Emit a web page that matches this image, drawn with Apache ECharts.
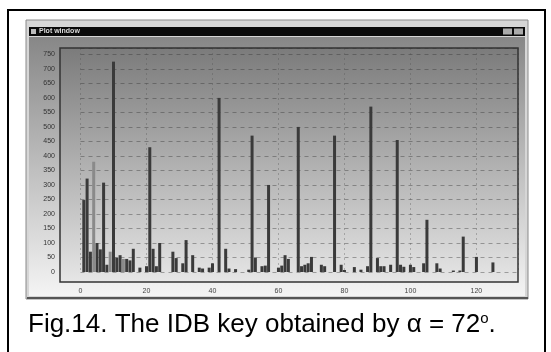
<!DOCTYPE html>
<html>
<head>
<meta charset="utf-8">
<script src="https://cdn.jsdelivr.net/npm/echarts@6/dist/echarts.min.js"></script>
<style>
  html, body { margin: 0; padding: 0; background: #fff; }
  #chart { width: 551px; height: 352px; }
</style>
</head>
<body>
<div id="chart"></div>
<script>
// key index -> key value (dark bars)
const darkPos = [1, 2, 3, 5, 6, 7, 8, 10, 11, 12, 14, 15, 16, 18, 20, 21, 22, 23, 24, 28, 29, 31, 32, 34, 36, 37, 39, 40,
  42, 44, 45, 47, 51, 52, 53, 55, 56, 57, 60, 61, 62, 63, 66, 67, 68, 69, 70, 73, 74, 77, 79, 80, 83, 85, 87, 88,
  90, 91, 92, 94, 96, 97, 98, 100, 101, 104, 105, 108, 109, 113, 115, 116, 120, 125];
const darkVal = [248, 322, 70, 100, 78, 308, 25, 725, 50, 58, 45, 40, 80, 15, 20, 430, 80, 20, 100, 70, 48, 30, 110, 58, 15, 12, 15, 30,
  600, 80, 12, 10, 8, 470, 50, 20, 22, 300, 15, 22, 58, 45, 500, 20, 25, 30, 52, 25, 20, 470, 25, 7, 17, 8, 20, 570,
  48, 20, 20, 25, 455, 25, 18, 25, 17, 30, 180, 30, 12, 5, 5, 122, 52, 33];
// lighter bars
const lightPos = [4, 9, 13];
const lightVal = [380, 70, 45];
const caption = 'Fig.14. The IDB key obtained by α = 72';

function pairs(xs, ys) {
  return xs.map((x, i) => [x, ys[i]]);
}

const myChart = echarts.init(document.getElementById('chart'));

const option = {
  animation: false,
  grid: { left: 80.5, right: 33, top: 48, bottom: 80 },
  xAxis: {
    type: 'value',
    min: 0,
    max: 132.6,
    interval: 20,
    axisLine: { show: false },
    axisTick: { show: false },
    axisLabel: { showMaxLabel: false, fontSize: 7, color: '#444', margin: 16, fontFamily: 'Liberation Sans' },
    splitLine: { show: true, lineStyle: { color: 'rgba(80,80,80,0.35)', type: [2, 3], width: 1 } }
  },
  yAxis: {
    type: 'value',
    min: 0,
    max: 772,
    interval: 50,
    axisLine: { show: false },
    axisTick: { show: false },
    axisLabel: { showMaxLabel: false, fontSize: 7, color: '#333', margin: 25.5, fontFamily: 'Liberation Sans' },
    splitLine: { show: true, lineStyle: { color: 'rgba(50,50,50,0.4)', type: [4, 4], width: 1 } }
  },
  graphic: [
    // figure border
    { type: 'rect', z: -20, shape: { x: 8, y: 10, width: 537, height: 352 },
      style: { fill: '#fff', stroke: '#000', lineWidth: 2 } },
    // window
    { type: 'rect', z: -19, shape: { x: 26, y: 20, width: 502, height: 279 },
      style: { fill: '#d6d6d6', stroke: '#8a8a8a', lineWidth: 1 } },
    { type: 'rect', z: -18, shape: { x: 29, y: 27, width: 496, height: 9 },
      style: { fill: '#0a0a0a' } },
    { type: 'rect', z: -17, shape: { x: 31, y: 29, width: 5, height: 5 },
      style: { fill: '#bbb' } },
    { type: 'text', z: -17, style: { x: 39, y: 31.5, text: 'Plot window', fill: '#ddd', font: 'bold 7px Liberation Sans', verticalAlign: 'middle' } },
    { type: 'rect', z: -17, shape: { x: 503, y: 28.5, width: 9, height: 6 }, style: { fill: '#aaa' } },
    { type: 'rect', z: -17, shape: { x: 514, y: 28.5, width: 9, height: 6 }, style: { fill: '#aaa' } },
    // client area
    { type: 'rect', z: -16, shape: { x: 29, y: 37, width: 496, height: 259 },
      style: { fill: new echarts.graphic.LinearGradient(0, 0, 0, 1, [
        { offset: 0, color: '#878787' }, { offset: 1, color: '#f4f4f4' }]) } },
    { type: 'line', z: -15, shape: { x1: 27, y1: 298, x2: 528, y2: 298 }, style: { stroke: '#555', lineWidth: 2 } },
    // plot area
    { type: 'rect', z: -14, shape: { x: 60, y: 48, width: 458, height: 234 },
      style: { fill: new echarts.graphic.LinearGradient(0, 0, 0, 1, [
        { offset: 0, color: '#7b7b7b' }, { offset: 1, color: '#e6e6e6' }]) } },
    { type: 'rect', z: 10, shape: { x: 60, y: 48, width: 458, height: 234 },
      style: { fill: 'none', stroke: '#333', lineWidth: 1.5 } },
    // caption
    { type: 'text', z: 10, style: {
      x: 28, y: 325, verticalAlign: 'middle',
      text: caption + '{sup|o}.',
      font: '26px Liberation Sans', fill: '#000',
      rich: { sup: { fontSize: 15, verticalAlign: 'top', padding: [0, 0, 12, 0], fontFamily: 'Liberation Sans' } }
    } }
  ],
  series: [
    {
      type: 'bar',
      barWidth: 3,
      itemStyle: { color: '#3a3a3a' },
      data: pairs(darkPos, darkVal)
    },
    {
      type: 'bar',
      barWidth: 3,
      barGap: '-100%',
      itemStyle: { color: '#8a8a8a' },
      data: pairs(lightPos, lightVal)
    }
  ]
};

myChart.setOption(option);
</script>
</body>
</html>
